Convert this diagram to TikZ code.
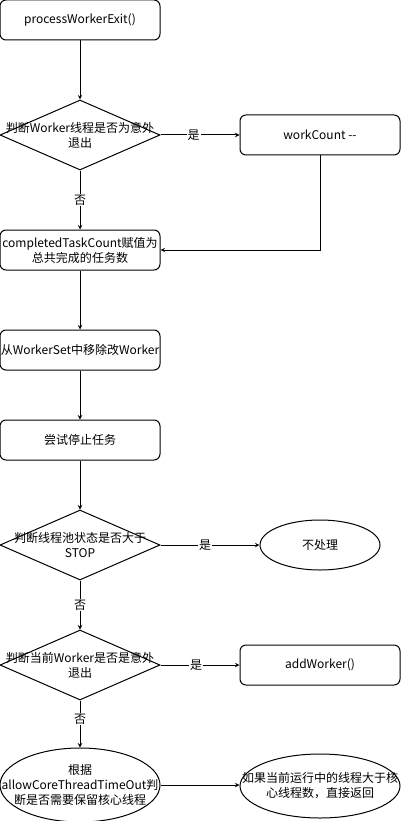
\documentclass[tikz,border=0pt]{standalone}
\usepackage{fontspec}
\setmainfont{Noto Sans CJK SC}
\usetikzlibrary{shapes.geometric,calc}
\tikzset{
proc/.style={draw,rounded corners=6pt,minimum width=160pt,minimum height=40pt,inner sep=0pt,align=center},
decision/.style={draw,diamond,minimum width=160pt,minimum height=70pt,inner sep=0pt},
oval/.style={draw,ellipse,minimum width=160pt,inner sep=0pt},
txt/.style={align=center,inner sep=0pt},
lbl/.style={fill=white,inner sep=1pt},
}

\begin{document}
\begin{tikzpicture}[x=1pt,y=-1pt,line width=1pt,font=\fontsize{12pt}{15pt}\selectfont]
\useasboundingbox (0,0) rectangle (401,821);
\node[proc](start) at (80,20){processWorkerExit()};
\node[decision,label={[txt]center:判断Worker线程是否为意外\\退出}](d1) at (80,135){};
\node[proc](wc) at (320,135){workCount -{}-};
\node[proc](done) at (80,250){completedTaskCount赋值为\\总共完成的任务数};
\node[proc](rm) at (80,350){从WorkerSet中移除改Worker};
\node[proc](stop) at (80,440){尝试停止任务};
\node[decision,label={[txt]center:判断线程池状态是否大于\\STOP}](d2) at (80,545){};
\node[oval,minimum width=120pt,minimum height=50pt,label={[txt]center:不处理}](skip) at (320,545){};
\node[decision,label={[txt]center:判断当前Worker是否是意外\\退出}](d3) at (80,665){};
\node[proc](add) at (320,665){addWorker()};
\node[oval,minimum height=74pt,label={[txt]center:根据\\allowCoreThreadTimeOut判\\断是否需要保留核心线程}](core) at (80,785){};
\node[oval,minimum height=64pt,label={[txt]center:如果当前运行中的线程大于核\\心线程数，直接返回}](ret) at (320,786){};
%main flow
\draw[-stealth](start)--(d1);
\draw[-stealth](d1)--(wc)node[pos=0.42,lbl]{是};
\draw[-stealth](d1)--(done)node[midway,lbl]{否};
\draw[-stealth](wc.south)|-(done.east);
\draw[-stealth](done)--(rm);
\draw[-stealth](rm)--(stop);
\draw[-stealth](stop)--(d2);
\draw[-stealth](d2)--(skip)node[pos=0.45,lbl]{是};
\draw[-stealth](d2)--(d3)node[midway,lbl]{否};
\draw[-stealth](d3)--(add)node[pos=0.45,lbl]{是};
\draw[-stealth](d3)--(core)node[pos=0.4,lbl]{否};
\draw[-stealth](core.east)--(core.east-|ret.west);
\end{tikzpicture}
\end{document}
